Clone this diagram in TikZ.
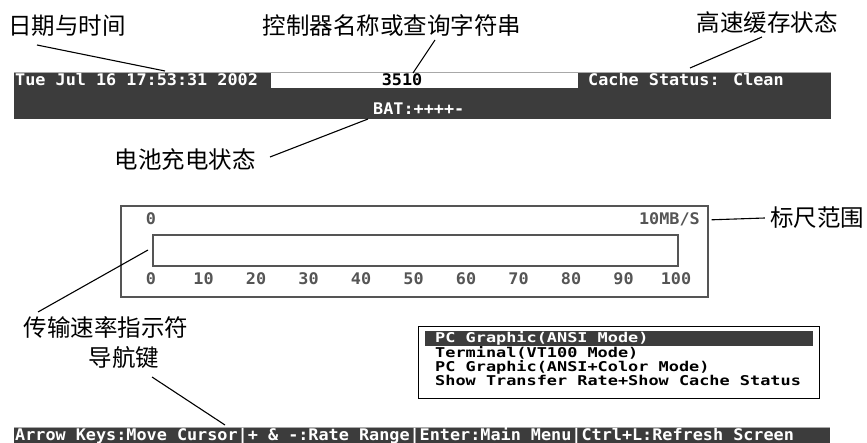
\documentclass[tikz,border=0pt]{standalone}
\usepackage{fontspec}
\usepackage{xcolor}
\usetikzlibrary{positioning}
\newfontfamily\cjkfont{Noto Sans CJK SC}
\newfontfamily\termfont[FakeStretch=1.05]{DejaVu Sans Mono}
\newfontfamily\menufont[FakeStretch=1.25]{DejaVu Sans Mono}
\definecolor{scrbar}{HTML}{3C3C3C}
\definecolor{scredge}{HTML}{A8A8A8}
\definecolor{rulegray}{HTML}{555555}

\begin{document}
\begin{tikzpicture}[
  x=1pt, y=-1pt,
  callout/.style={font=\cjkfont\fontsize{23.5}{24}\selectfont, inner sep=0pt},
  term/.style={font=\termfont\bfseries\fontsize{16}{16}\selectfont,
               inner sep=0pt, anchor=base west},
  menuitem/.style={font=\menufont\bfseries\fontsize{13.5}{14}\selectfont,
               inner sep=0pt, anchor=base west},
  lead/.style={line width=1.1pt},
  frame/.style={draw, inner sep=0pt, anchor=north west}
]
  \useasboundingbox (0,0) rectangle (867,443);

  % status bar at the top
  \fill[scrbar] (14,72) rectangle (831,119);
  \draw[scredge, line width=1pt] (14,72.5) -- (831,72.5);
  \node[fill=white, inner sep=0pt, minimum width=307pt, minimum height=15pt,
        anchor=north west] (namebox) at (271,73) {};
  \node[term, text=white] (datetime) at (15,86) {Tue Jul 16 17:53:31 2002};
  \node[term, anchor=base] (ctrlname) at (402,86) {3510};
  \node[term, text=white] (cache) at (588,86) {Cache Status: Clean};
  \node[term, text=white] (battery) at (373,115) {BAT:++++-};

  % transfer rate ruler
  \node[frame, rulegray, line width=1.6pt, minimum width=587pt,
        minimum height=91pt] (ruler) at (120,205) {};
  \node[frame, rulegray, line width=1.8pt, minimum width=525pt,
        minimum height=31pt] (ratebar) at (152,234) {};
  \node[term, anchor=base, text=rulegray] (lowend) at (151,225) {0};
  \node[term, anchor=base east, text=rulegray] (highend) at (700,225) {10MB/S};
  \foreach \v [count=\i from 0] in {0,10,...,100}
    \node[term, anchor=base, text=rulegray] (tick\i) at (151+52.5*\i,285) {\v};

  % terminal mode menu
  \node[frame, line width=1.2pt, minimum width=401pt, minimum height=72pt]
    (menu) at (418,326) {};
  \fill[scrbar] (425,331) rectangle (813,346);
  \node[menuitem, text=white] (item1) at (435,343) {PC Graphic(ANSI Mode)};
  \node[menuitem] (item2) at (435,357) {Terminal(VT100 Mode)};
  \node[menuitem] (item3) at (435,371) {PC Graphic(ANSI+Color Mode)};
  \node[menuitem] (item4) at (435,385) {Show Transfer Rate+Show Cache Status};

  % key help bar at the bottom
  \fill[scrbar] (14,427) rectangle (830,443);
  \draw[scredge, line width=1pt] (14,427.5) -- (830,427.5);
  \node[term, text=white] (keyhelp) at (15,440)
    {Arrow Keys:Move Cursor|+ \& -:Rate Range|Enter:Main Menu|Ctrl+L:Refresh Screen};

  % callouts
  \node[callout] (datelbl) at (67,26) {日期与时间};
  \node[callout] (namelbl) at (392,26) {控制器名称或查询字符串};
  \node[callout] (cachelbl) at (767,23) {高速缓存状态};
  \node[callout] (batlbl) at (185,160) {电池充电状态};
  \node[callout] (scalelbl) at (817,218) {标尺范围};
  \node[callout] (ratelbl) at (106,327) {传输速率指示符};
  \node[callout] (navlbl) at (124,358) {导航键};

  \coordinate (datefoot) at (37,45);
  \coordinate (datetip) at (165,71);
  \coordinate (namefoot) at (435,40);
  \coordinate (nametip) at (413,73);
  \coordinate (cachefoot) at (762,37);
  \coordinate (cachetip) at (690,68);
  \coordinate (batfoot) at (270,157);
  \coordinate (battip) at (368,119);
  \coordinate (ratefoot) at (38,312);
  \coordinate (ratetip) at (148,250);
  \coordinate (navfoot) at (152,377);
  \coordinate (navtip) at (225,425);

  \draw[lead] (datefoot) -- (datetip);
  \draw[lead] (namefoot) -- (nametip);
  \draw[lead] (cachefoot) -- (cachetip);
  \draw[lead] (batfoot) -- (battip);
  \draw[lead] ([xshift=3pt]ruler.east |- highend) -- ([xshift=-5pt]scalelbl.west);
  \draw[lead] (ratefoot) -- (ratetip);
  \draw[lead] (navfoot) -- (navtip);
\end{tikzpicture}
\end{document}
